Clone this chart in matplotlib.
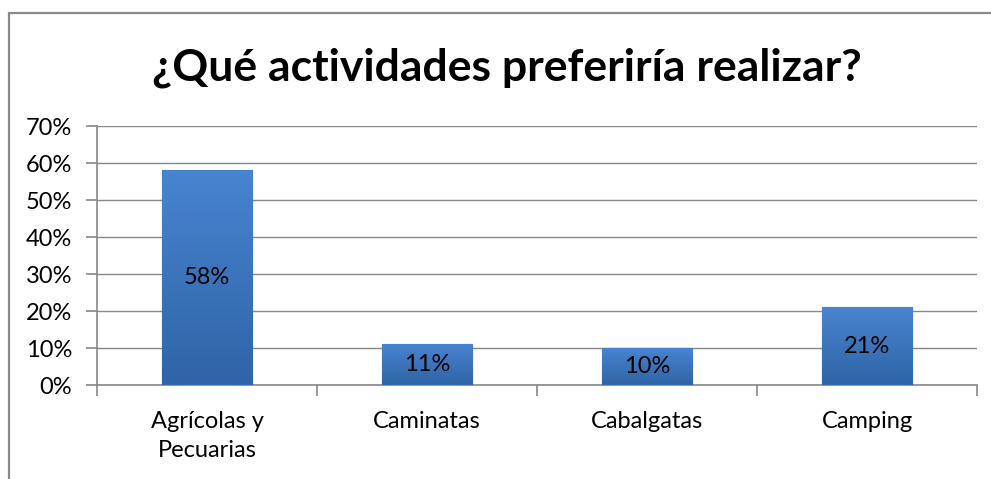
import matplotlib
matplotlib.use("Agg")
import matplotlib.pyplot as plt
from matplotlib.patches import Rectangle
from matplotlib.ticker import FuncFormatter, FixedLocator
import numpy as np

plt.rcParams['font.family'] = ['Lato', 'DejaVu Sans']

categorias = ['Agrícolas y\nPecuarias', 'Caminatas', 'Cabalgatas', 'Camping']
valores = [58, 11, 10, 21]
etiquetas = ['58%', '11%', '10%', '21%']
titulo = '¿Qué actividades preferiría realizar?'

fig = plt.figure(figsize=(9.91, 4.79), dpi=100)
ax = fig.add_axes([0.0979, 0.1962, 0.888, 0.5407])

gris = '#878787'
x = np.arange(len(categorias))
bars = ax.bar(x, valores, width=0.41, color='#3b78c4', edgecolor='#2c5d9a',
              linewidth=0.8, zorder=3)

# degradado simple sobre cada barra
cmap = matplotlib.colors.LinearSegmentedColormap.from_list('g', ['#2f64a6', '#4884d0'])
grad = np.linspace(0, 1, 256).reshape(-1, 1)
for b in bars:
    x0, y0 = b.get_x(), b.get_y()
    w, h = b.get_width(), b.get_height()
    im = ax.imshow(grad, cmap=cmap, extent=[x0, x0 + w, y0, y0 + h],
                   aspect='auto', origin='lower', zorder=3.5, interpolation='bicubic')
    im.set_clip_path(b)

for xi, v, t in zip(x, valores, etiquetas):
    ax.text(xi, v / 2, t, ha='center', va='center', fontsize=17, zorder=5)

ax.set_xlim(-0.5, len(categorias) - 0.5)
ax.set_ylim(0, 70)
ax.set_yticks(range(0, 71, 10))
ax.yaxis.set_major_formatter(FuncFormatter(lambda v, p: f'{int(v)}%'))
ax.set_xticks(x)
ax.set_xticklabels(categorias, fontsize=17, linespacing=1.45)
ax.xaxis.set_minor_locator(FixedLocator(np.arange(-0.5, len(categorias), 1.0)))
ax.tick_params(axis='x', which='major', length=0, pad=19)
ax.tick_params(axis='x', which='minor', length=8, color=gris, width=1.2, direction='out')
ax.tick_params(axis='y', length=8, color=gris, width=1.2, labelsize=17, pad=10)
ax.grid(axis='y', color=gris, linewidth=1.0, zorder=0)
ax.set_axisbelow(True)
for s in ['top', 'right']:
    ax.spines[s].set_visible(False)
for s in ['left', 'bottom']:
    ax.spines[s].set_color(gris)
    ax.spines[s].set_linewidth(1.2)

fig.text(0.511, 0.858, titulo, ha='center', va='center', fontsize=32,
         fontweight='bold')

# marco del gráfico
fig.patches.append(Rectangle((9 / 991, -0.1), 1.1, 1.1 - 13 / 479,
                             transform=fig.transFigure, fill=False,
                             edgecolor='#8a8a8a', linewidth=1.6))

fig.savefig('out.png', dpi=100)
